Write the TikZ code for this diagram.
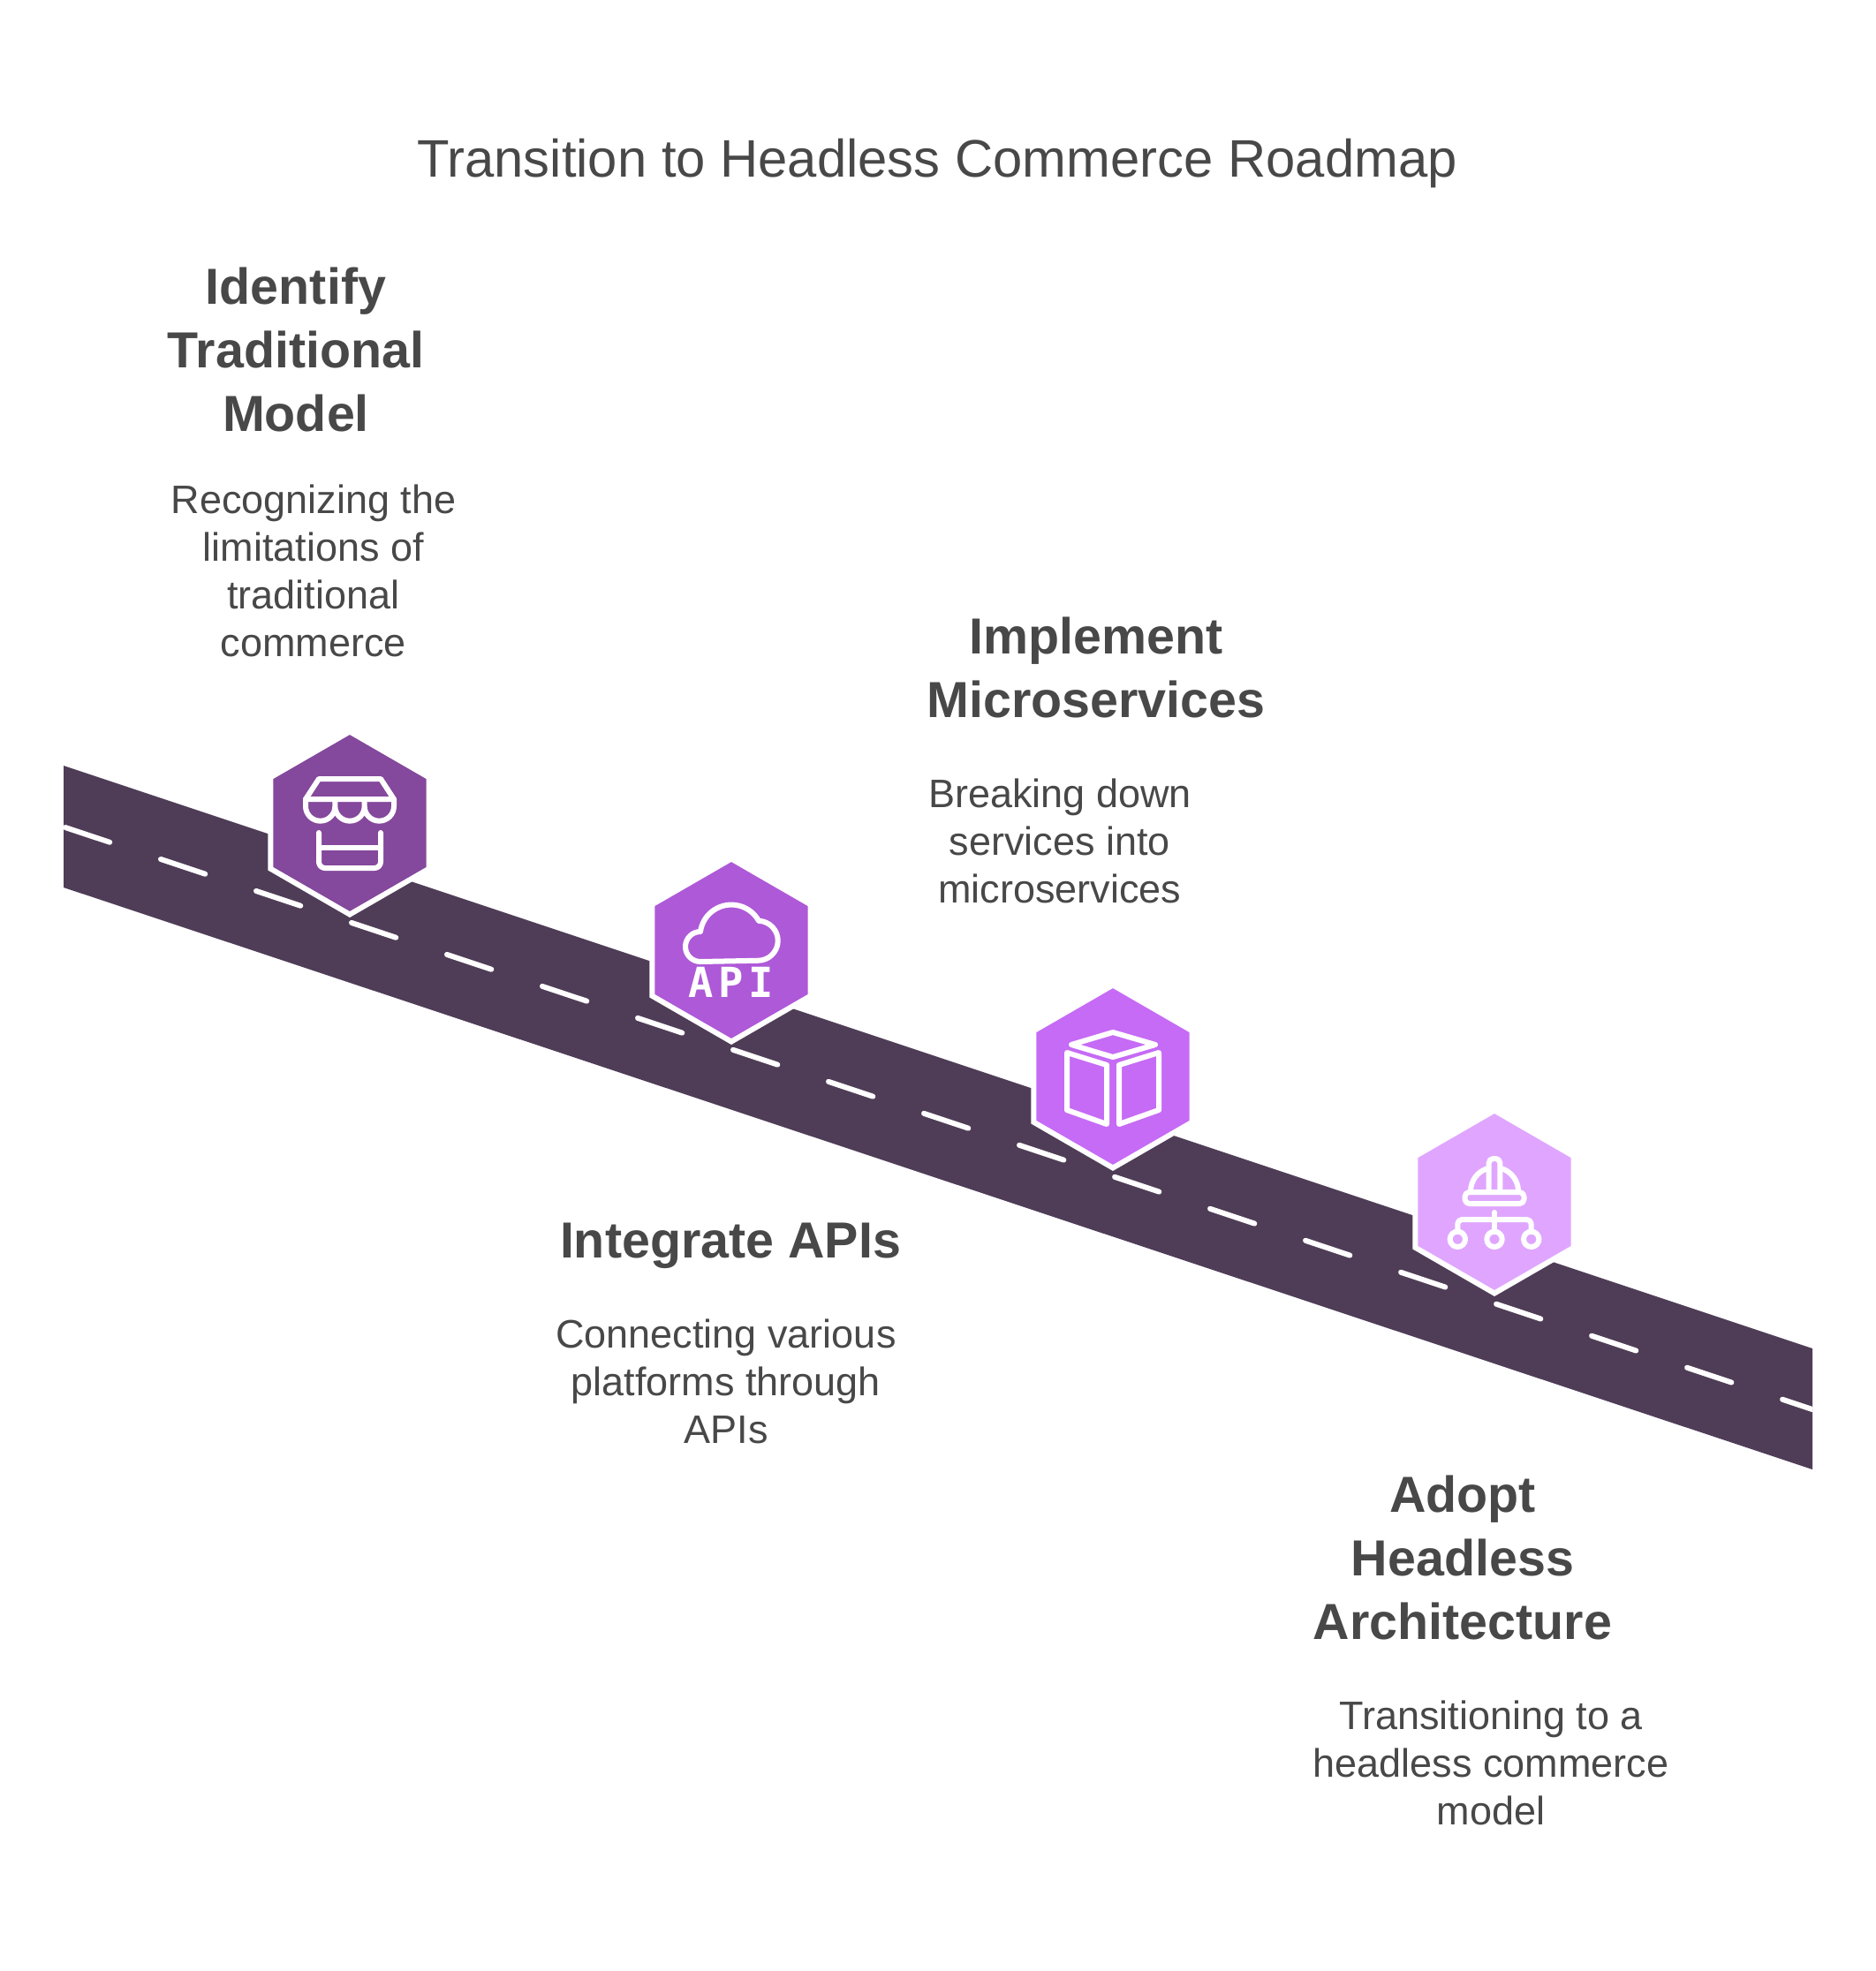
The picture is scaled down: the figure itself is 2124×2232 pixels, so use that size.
\documentclass[tikz,border=0pt]{standalone}
\usepackage{fontspec}
\setmainfont{Liberation Sans}
\newfontfamily\apifont[LetterSpace=12]{DejaVu Sans Mono Bold}
\usetikzlibrary{shapes.geometric}
\definecolor{roadcolor}{HTML}{4F3D57}
\definecolor{textcolor}{HTML}{484848}
\definecolor{hexone}{HTML}{84489C}
\definecolor{hextwo}{HTML}{AE59D8}
\definecolor{hexthree}{HTML}{C66BF5}
\definecolor{hexfour}{HTML}{E0A6FF}
\tikzset{
	titletext/.style={text=textcolor,align=center,font=\fontsize{29.9}{35}\selectfont},
	headtext/.style={text=textcolor,align=center,font=\fontsize{28.7}{36}\selectfont\bfseries},
	desctext/.style={text=textcolor,align=center,font=\fontsize{22.5}{27}\selectfont},
	hexnode/.style={regular polygon,regular polygon sides=6,shape border rotate=30,minimum size=103.5pt,inner sep=0,outer sep=0,draw=white,line width=3pt},
	iconline/.style={draw=white,line width=3pt,line cap=round,line join=round},
	roaddash/.style={draw=white,line width=3pt,line cap=round,dash pattern=on 26.5pt off 30.42pt}
}
\begin{document}
\begin{tikzpicture}[x=0.5pt,y=0.5pt]
	\useasboundingbox[fill=white] (0,0) rectangle (2124,-2232);
	\coordinate (r1) at (72,-867);
	\coordinate (r2) at (2052,-1527);
	\coordinate (r3) at (2052,-1664);
	\coordinate (r4) at (72,-1005);
	\coordinate (d1) at (74,-937);
	\coordinate (d2) at (2052,-1596);
	\fill[roadcolor] (r1) -- (r2) -- (r3) -- (r4) -- cycle;
	\begin{scope}
		\clip (r1) -- (r2) -- (r3) -- (r4) -- cycle;
		\draw[roaddash] (d1) -- (d2);
	\end{scope}
	\node[titletext] (title) at (1061,-185) {Transition to Headless Commerce Roadmap};
	\node[hexnode,fill=hexone] (hex1) at (396,-932) {};
	\node[hexnode,fill=hextwo] (hex2) at (828,-1076) {};
	\node[hexnode,fill=hexthree] (hex3) at (1260,-1219) {};
	\node[hexnode,fill=hexfour] (hex4) at (1692,-1361) {};
	\node[headtext] (head1) at (335,-396) {Identify\\Traditional\\Model};
	\node[desctext] (desc1) at (355,-646.5) {Recognizing the\\limitations of\\traditional\\commerce};
	\node[headtext] (head2) at (827,-1411) {Integrate APIs};
	\node[desctext] (desc2) at (822,-1564.5) {Connecting various\\platforms through\\APIs};
	\node[headtext] (head3) at (1241,-756) {Implement\\Microservices};
	\node[desctext] (desc3) at (1200,-952.5) {Breaking down\\services into\\microservices};
	\node[headtext] (head4) at (1656,-1764) {Adopt\\Headless\\Architecture};
	\node[desctext] (desc4) at (1688,-1996.5) {Transitioning to a\\headless commerce\\model};
	% store
	\begin{scope}[shift={(hex1.center)}]
		\draw[iconline] (-50,27) -- (-35,50) -- (35,50) -- (50,27) -- cycle;
		\draw[iconline] (-50,27) -- (-50,19) arc[start angle=180,end angle=360,radius=16.67] -- (-16.67,27) -- (-16.67,19) arc[start angle=180,end angle=360,radius=16.67] -- (16.67,27) -- (16.67,19) arc[start angle=180,end angle=360,radius=16.67] -- (50,27);
		\draw[iconline,rounded corners=3.5pt] (-35,-11) -- (-35,-51) -- (35,-51) -- (35,-11);
		\draw[iconline] (-35,-28) -- (35,-28);
	\end{scope}
	% cloud
	\begin{scope}[shift={(hex2.center)}]
		\draw[iconline] (-35,-13) arc[start angle=270,end angle=90,radius=17] arc[start angle=172,end angle=29,radius=35.4] arc[start angle=88,end angle=-90,radius=22.5] -- cycle;
		\node[text=white,font=\fontsize{23.5}{24}\apifont\selectfont] (api) at (0,-36) {API};
	\end{scope}
	% box
	\begin{scope}[shift={(hex3.center)}]
		\draw[iconline] (0,50) -- (-47,36) -- (0,22) -- (48,36) -- cycle;
		\draw[iconline] (-52,27) -- (-7,13) -- (-7,-54) -- (-52,-38) -- cycle;
		\draw[iconline] (52,27) -- (7,13) -- (7,-54) -- (52,-38) -- cycle;
	\end{scope}
	% helmet
	\begin{scope}[shift={(hex4.center)}]
		\draw[iconline,rounded corners=2.5pt] (-33.5,11) rectangle (33.5,-2);
		\draw[iconline] (-27,12) arc[start angle=180,end angle=104,radius=27];
		\draw[iconline] (27,12) arc[start angle=0,end angle=76,radius=27];
		\draw[iconline,rounded corners=2.5pt] (-6.3,12) -- (-6.3,49) -- (6.3,49) -- (6.3,12);
		\draw[iconline] (0,-12) -- (0,-34);
		\draw[iconline,rounded corners=2.5pt] (-41.7,-34) -- (-41.7,-20) -- (41.7,-20) -- (41.7,-34);
		\draw[iconline] (-41.7,-42.3) circle[radius=8.7];
		\draw[iconline] (0,-42.3) circle[radius=8.7];
		\draw[iconline] (41.7,-42.3) circle[radius=8.7];
	\end{scope}
\end{tikzpicture}
\end{document}
